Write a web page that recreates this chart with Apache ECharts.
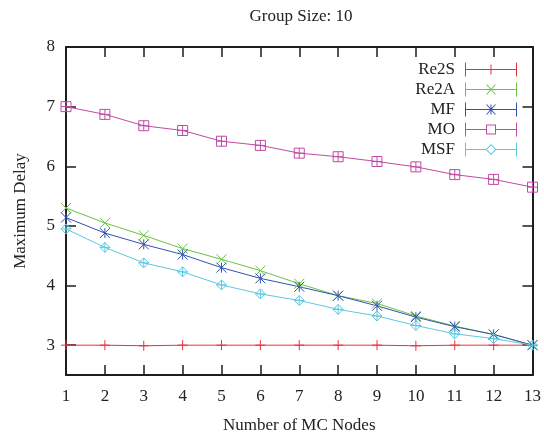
<!DOCTYPE html>
<html>
<head>
<meta charset="utf-8">
<script src="https://cdn.jsdelivr.net/npm/echarts@6/dist/echarts.min.js"></script>
<style>
html,body{margin:0;padding:0;background:#fff;}
#chart{width:544px;height:439px;}
</style>
</head>
<body>
<div id="chart"></div>
<script>
// ---- data ----
var nodes = [1,2,3,4,5,6,7,8,9,10,11,12,13];
var re2s = [3.0,3.0,2.99,3.0,3.0,3.0,3.0,3.0,3.0,2.99,3.0,3.0,3.0];
var re2a = [5.30,5.05,4.84,4.62,4.44,4.25,4.03,3.83,3.70,3.49,3.32,3.18,3.0];
var mf   = [5.14,4.88,4.69,4.52,4.30,4.12,3.98,3.83,3.66,3.47,3.31,3.18,3.0];
var mo   = [7.0,6.87,6.68,6.60,6.42,6.35,6.22,6.16,6.08,5.99,5.86,5.78,5.65];
var msf  = [4.95,4.64,4.38,4.23,4.01,3.86,3.75,3.60,3.49,3.33,3.19,3.11,3.0];
var seriesNames = ['Re2S','Re2A','MF','MO','MSF'];
var yTicks = [3,4,5,6,7,8];

var colors = ['#e8303c','#6cc24a','#3352b0','#c04aa6','#5cc8e0'];
var FONT = 'Liberation Serif';

var symbols = [
  'path://M0,5L10,5M5,0L5,10',
  'path://M0,0L10,10M10,0L0,10',
  'path://M0,0L10,10M10,0L0,10M5,0L5,10',
  'path://M0,0L10,0L10,10L0,10ZM5,0L5,10M0,5L10,5',
  'path://M5,0L10,5L5,10L0,5ZM5,0L5,10M0,5L10,5'
];

var caps = 'M0,0L1,0L1,14L0,14ZM51,0L52,0L52,14L51,14Z';
var fullLine = 'M1,6.5L51,6.5L51,7.5L1,7.5Z';
var splitLine = 'M1,6.5L21,6.5L21,7.5L1,7.5ZM31,6.5L51,6.5L51,7.5L31,7.5Z';
var legendIcons = [
  'path://' + caps + fullLine + 'M25.5,2L26.5,2L26.5,12L25.5,12Z',
  'path://' + caps + fullLine + 'M21,2L22.2,2L31,12L29.8,12ZM29.8,2L31,2L22.2,12L21,12Z',
  'path://' + caps + fullLine + 'M21,2L22.2,2L31,12L29.8,12ZM29.8,2L31,2L22.2,12L21,12ZM25.5,2L26.5,2L26.5,12L25.5,12Z',
  'path://' + caps + splitLine + 'M21,2L31,2L31,12L21,12ZM22,3L22,11L30,11L30,3Z',
  'path://' + caps + splitLine + 'M26,1.5L31.5,7L26,12.5L20.5,7ZM26,2.9L21.9,7L26,11.1L30.1,7Z'
];

var dataSets = [re2s, re2a, mf, mo, msf];

function pairs(arr){ return nodes.map(function(x,i){ return [x, arr[i]]; }); }

var axisLineStyle = {color:'#1e1e1e', width:2};
var labelStyle = {fontFamily: FONT, fontSize: 17, color: '#222'};

var option = {
  animation: false,
  backgroundColor: '#fff',
  title: {
    text: 'Group Size: 10',
    left: 301, top: 8, textAlign: 'center', padding: 0,
    textStyle: {fontFamily: FONT, fontSize: 17, fontWeight: 'normal', color: '#222'}
  },
  grid: {left: 66, right: 7, top: 47, bottom: 61, containLabel: false},
  legend: {
    orient: 'vertical', right: 27, top: 61, padding: 0,
    align: 'right', itemWidth: 52, itemHeight: 14, itemGap: 3,
    textStyle: {fontFamily: FONT, fontSize: 17, color: '#222', lineHeight: 17, padding: [0, 5, 0, 0]},
    selectedMode: false,
    data: seriesNames.map(function(n, i){
      return {name: n, icon: legendIcons[i], itemStyle: {color: colors[i], borderWidth: 0}};
    })
  },
  xAxis: [{
    type: 'value', min: 1, max: 13, interval: 1, position: 'bottom',
    name: 'Number of MC Nodes', nameLocation: 'middle', nameGap: 42,
    nameTextStyle: labelStyle,
    axisLine: {show: true, lineStyle: axisLineStyle},
    axisTick: {show: true, inside: true, length: 10, lineStyle: {color: '#1e1e1e', width: 1.5}},
    axisLabel: Object.assign({margin: 13}, labelStyle),
    splitLine: {show: false}
  },{
    type: 'value', min: 1, max: 13, interval: 1, position: 'top',
    axisLine: {show: true, lineStyle: axisLineStyle},
    axisTick: {show: true, inside: true, length: 10, lineStyle: {color: '#1e1e1e', width: 1.5}},
    axisLabel: {show: false},
    splitLine: {show: false}
  }],
  yAxis: [{
    type: 'value', min: 2.5, max: 8, position: 'left',
    name: 'Maximum Delay', nameLocation: 'middle', nameGap: 37,
    nameTextStyle: labelStyle,
    axisLine: {show: true, lineStyle: axisLineStyle},
    axisTick: {show: true, inside: true, length: 10, lineStyle: {color: '#1e1e1e', width: 1.5}, customValues: yTicks},
    axisLabel: Object.assign({margin: 11, customValues: yTicks}, labelStyle),
    splitLine: {show: false}
  },{
    type: 'value', min: 2.5, max: 8, position: 'right',
    axisLine: {show: true, lineStyle: axisLineStyle},
    axisTick: {show: true, inside: true, length: 10, lineStyle: {color: '#1e1e1e', width: 1.5}, customValues: yTicks},
    axisLabel: {show: false, customValues: yTicks},
    splitLine: {show: false}
  }],
  series: seriesNames.map(function(n, i){
    return {
      name: n, type: 'line', xAxisIndex: 0, yAxisIndex: 0,
      data: pairs(dataSets[i]),
      color: colors[i],
      symbol: symbols[i], symbolSize: 10, showAllSymbol: true,
      lineStyle: {color: colors[i], width: 1},
      itemStyle: {color: 'rgba(0,0,0,0)', borderColor: colors[i], borderWidth: 1},
      emphasis: {disabled: true}
    };
  })
};

var chart = echarts.init(document.getElementById('chart'), null, {renderer: 'canvas'});
chart.setOption(option);
</script>
</body>
</html>
